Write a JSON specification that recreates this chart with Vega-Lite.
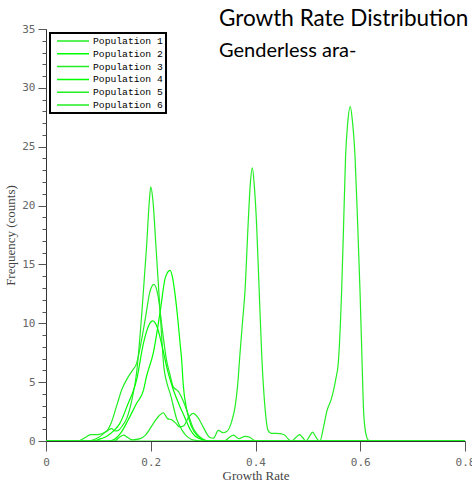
{
  "$schema": "https://vega.github.io/schema/vega-lite/v6.json",
  "width": 419,
  "height": 412,
  "autosize": "none",
  "padding": {"left": 46, "top": 29, "right": 7, "bottom": 45},
  "background": "white",
  "config": {"view": {"stroke": null}, "legend": {"strokeWidth": 2}},
  "title": {
    "text": "Growth Rate Distribution",
    "subtitle": "Genderless ara-",
    "anchor": "start",
    "frame": "group",
    "font": "Lato",
    "fontSize": 22.5,
    "fontWeight": "normal",
    "color": "black",
    "subtitleFont": "Lato",
    "subtitleFontSize": 20,
    "subtitleColor": "black",
    "subtitlePadding": 11,
    "baseline": "top",
    "dx": 173,
    "dy": 66,
    "offset": 28
  },
  "data": {
    "values": [
      {"s": "Population 1", "x": 0, "y": 0}, {"s": "Population 1", "x": 0.08, "y": 0}, {"s": "Population 1", "x": 0.1, "y": 0.3}, {"s": "Population 1", "x": 0.115, "y": 0.8}, {"s": "Population 1", "x": 0.125, "y": 1.05}, {"s": "Population 1", "x": 0.132, "y": 0.85}, {"s": "Population 1", "x": 0.138, "y": 0.9}, {"s": "Population 1", "x": 0.146, "y": 1.3}, {"s": "Population 1", "x": 0.154, "y": 1.9}, {"s": "Population 1", "x": 0.164, "y": 3.5}, {"s": "Population 1", "x": 0.173, "y": 5.8}, {"s": "Population 1", "x": 0.183, "y": 10.9}, {"s": "Population 1", "x": 0.192, "y": 16.5}, {"s": "Population 1", "x": 0.197, "y": 20.2}, {"s": "Population 1", "x": 0.2, "y": 21.6}, {"s": "Population 1", "x": 0.204, "y": 20.5}, {"s": "Population 1", "x": 0.21, "y": 16.5}, {"s": "Population 1", "x": 0.218, "y": 10.9}, {"s": "Population 1", "x": 0.225, "y": 6.3}, {"s": "Population 1", "x": 0.231, "y": 4.9}, {"s": "Population 1", "x": 0.237, "y": 4.05}, {"s": "Population 1", "x": 0.25, "y": 1.8}, {"s": "Population 1", "x": 0.26, "y": 0.9}, {"s": "Population 1", "x": 0.27, "y": 0.35}, {"s": "Population 1", "x": 0.285, "y": 0.05}, {"s": "Population 1", "x": 0.3, "y": 0}, {"s": "Population 1", "x": 0.8, "y": 0},

      {"s": "Population 2", "x": 0, "y": 0}, {"s": "Population 2", "x": 0.12, "y": 0}, {"s": "Population 2", "x": 0.129, "y": 0.1}, {"s": "Population 2", "x": 0.1445, "y": 0.8}, {"s": "Population 2", "x": 0.157, "y": 1.8}, {"s": "Population 2", "x": 0.173, "y": 3.2}, {"s": "Population 2", "x": 0.186, "y": 4.3}, {"s": "Population 2", "x": 0.192, "y": 5.5}, {"s": "Population 2", "x": 0.205, "y": 7.5}, {"s": "Population 2", "x": 0.2177, "y": 10.9}, {"s": "Population 2", "x": 0.228, "y": 13.9}, {"s": "Population 2", "x": 0.2368, "y": 14.5}, {"s": "Population 2", "x": 0.242, "y": 13.8}, {"s": "Population 2", "x": 0.246, "y": 12.6}, {"s": "Population 2", "x": 0.252, "y": 10.2}, {"s": "Population 2", "x": 0.256, "y": 8.3}, {"s": "Population 2", "x": 0.259, "y": 6.9}, {"s": "Population 2", "x": 0.262, "y": 4.8}, {"s": "Population 2", "x": 0.269, "y": 2.6}, {"s": "Population 2", "x": 0.278, "y": 1.2}, {"s": "Population 2", "x": 0.291, "y": 0.37}, {"s": "Population 2", "x": 0.3, "y": 0.1}, {"s": "Population 2", "x": 0.31, "y": 0}, {"s": "Population 2", "x": 0.8, "y": 0},

      {"s": "Population 3", "x": 0, "y": 0}, {"s": "Population 3", "x": 0.06, "y": 0}, {"s": "Population 3", "x": 0.075, "y": 0.3}, {"s": "Population 3", "x": 0.085, "y": 0.55}, {"s": "Population 3", "x": 0.1, "y": 0.55}, {"s": "Population 3", "x": 0.115, "y": 0.8}, {"s": "Population 3", "x": 0.125, "y": 1.6}, {"s": "Population 3", "x": 0.135, "y": 3.0}, {"s": "Population 3", "x": 0.145, "y": 4.4}, {"s": "Population 3", "x": 0.155, "y": 5.3}, {"s": "Population 3", "x": 0.165, "y": 6.0}, {"s": "Population 3", "x": 0.173, "y": 6.6}, {"s": "Population 3", "x": 0.18, "y": 8.0}, {"s": "Population 3", "x": 0.19, "y": 10.5}, {"s": "Population 3", "x": 0.198, "y": 12.6}, {"s": "Population 3", "x": 0.206, "y": 13.3}, {"s": "Population 3", "x": 0.214, "y": 12.3}, {"s": "Population 3", "x": 0.222, "y": 9.5}, {"s": "Population 3", "x": 0.23, "y": 6.9}, {"s": "Population 3", "x": 0.237, "y": 5.6}, {"s": "Population 3", "x": 0.243, "y": 4.6}, {"s": "Population 3", "x": 0.253, "y": 4.2}, {"s": "Population 3", "x": 0.262, "y": 3.4}, {"s": "Population 3", "x": 0.272, "y": 2.2}, {"s": "Population 3", "x": 0.28, "y": 1.2}, {"s": "Population 3", "x": 0.288, "y": 0.6}, {"s": "Population 3", "x": 0.3, "y": 0.15}, {"s": "Population 3", "x": 0.31, "y": 0}, {"s": "Population 3", "x": 0.8, "y": 0},

      {"s": "Population 4", "x": 0, "y": 0}, {"s": "Population 4", "x": 0.09, "y": 0}, {"s": "Population 4", "x": 0.105, "y": 0.2}, {"s": "Population 4", "x": 0.116, "y": 0.4}, {"s": "Population 4", "x": 0.13, "y": 0.9}, {"s": "Population 4", "x": 0.141, "y": 1.5}, {"s": "Population 4", "x": 0.157, "y": 3.2}, {"s": "Population 4", "x": 0.167, "y": 4.3}, {"s": "Population 4", "x": 0.173, "y": 5.2}, {"s": "Population 4", "x": 0.186, "y": 8.3}, {"s": "Population 4", "x": 0.196, "y": 9.8}, {"s": "Population 4", "x": 0.204, "y": 10.2}, {"s": "Population 4", "x": 0.212, "y": 9.7}, {"s": "Population 4", "x": 0.222, "y": 8.0}, {"s": "Population 4", "x": 0.232, "y": 6.0}, {"s": "Population 4", "x": 0.242, "y": 4.5}, {"s": "Population 4", "x": 0.255, "y": 3.0}, {"s": "Population 4", "x": 0.265, "y": 2.0}, {"s": "Population 4", "x": 0.275, "y": 1.0}, {"s": "Population 4", "x": 0.285, "y": 0.4}, {"s": "Population 4", "x": 0.3, "y": 0.1}, {"s": "Population 4", "x": 0.31, "y": 0}, {"s": "Population 4", "x": 0.8, "y": 0},

      {"s": "Population 5", "x": 0, "y": 0}, {"s": "Population 5", "x": 0.13, "y": 0}, {"s": "Population 5", "x": 0.14, "y": 0.3}, {"s": "Population 5", "x": 0.148, "y": 0.5}, {"s": "Population 5", "x": 0.156, "y": 0.3}, {"s": "Population 5", "x": 0.165, "y": 0.1}, {"s": "Population 5", "x": 0.18, "y": 0.2}, {"s": "Population 5", "x": 0.19, "y": 0.5}, {"s": "Population 5", "x": 0.205, "y": 1.5}, {"s": "Population 5", "x": 0.215, "y": 2.1}, {"s": "Population 5", "x": 0.224, "y": 2.4}, {"s": "Population 5", "x": 0.232, "y": 1.9}, {"s": "Population 5", "x": 0.24, "y": 1.8}, {"s": "Population 5", "x": 0.248, "y": 1.5}, {"s": "Population 5", "x": 0.255, "y": 1.2}, {"s": "Population 5", "x": 0.263, "y": 1.3}, {"s": "Population 5", "x": 0.272, "y": 2.0}, {"s": "Population 5", "x": 0.281, "y": 2.35}, {"s": "Population 5", "x": 0.29, "y": 2.0}, {"s": "Population 5", "x": 0.3, "y": 1.2}, {"s": "Population 5", "x": 0.313, "y": 0.3}, {"s": "Population 5", "x": 0.32, "y": 0.25}, {"s": "Population 5", "x": 0.329, "y": 0.9}, {"s": "Population 5", "x": 0.338, "y": 0.7}, {"s": "Population 5", "x": 0.345, "y": 0.8}, {"s": "Population 5", "x": 0.351, "y": 1.2}, {"s": "Population 5", "x": 0.356, "y": 1.9}, {"s": "Population 5", "x": 0.361, "y": 2.9}, {"s": "Population 5", "x": 0.366, "y": 4.8}, {"s": "Population 5", "x": 0.37, "y": 7.2}, {"s": "Population 5", "x": 0.375, "y": 10.0}, {"s": "Population 5", "x": 0.38, "y": 12.8}, {"s": "Population 5", "x": 0.386, "y": 18.5}, {"s": "Population 5", "x": 0.39, "y": 21.8}, {"s": "Population 5", "x": 0.394, "y": 23.2}, {"s": "Population 5", "x": 0.398, "y": 21.5}, {"s": "Population 5", "x": 0.402, "y": 18.5}, {"s": "Population 5", "x": 0.407, "y": 12.8}, {"s": "Population 5", "x": 0.412, "y": 7.2}, {"s": "Population 5", "x": 0.418, "y": 2.9}, {"s": "Population 5", "x": 0.424, "y": 0.9}, {"s": "Population 5", "x": 0.43, "y": 0.65}, {"s": "Population 5", "x": 0.44, "y": 0.65}, {"s": "Population 5", "x": 0.45, "y": 0.6}, {"s": "Population 5", "x": 0.456, "y": 0.5}, {"s": "Population 5", "x": 0.463, "y": 0.15}, {"s": "Population 5", "x": 0.469, "y": 0}, {"s": "Population 5", "x": 0.477, "y": 0.3}, {"s": "Population 5", "x": 0.484, "y": 0.55}, {"s": "Population 5", "x": 0.49, "y": 0.3}, {"s": "Population 5", "x": 0.496, "y": 0}, {"s": "Population 5", "x": 0.503, "y": 0.4}, {"s": "Population 5", "x": 0.509, "y": 0.75}, {"s": "Population 5", "x": 0.515, "y": 0.35}, {"s": "Population 5", "x": 0.522, "y": 0}, {"s": "Population 5", "x": 0.8, "y": 0},

      {"s": "Population 6", "x": 0, "y": 0}, {"s": "Population 6", "x": 0.34, "y": 0}, {"s": "Population 6", "x": 0.35, "y": 0.3}, {"s": "Population 6", "x": 0.358, "y": 0.5}, {"s": "Population 6", "x": 0.368, "y": 0.2}, {"s": "Population 6", "x": 0.38, "y": 0.4}, {"s": "Population 6", "x": 0.39, "y": 0.3}, {"s": "Population 6", "x": 0.4, "y": 0}, {"s": "Population 6", "x": 0.523, "y": 0}, {"s": "Population 6", "x": 0.53, "y": 1.2}, {"s": "Population 6", "x": 0.536, "y": 2.5}, {"s": "Population 6", "x": 0.545, "y": 3.6}, {"s": "Population 6", "x": 0.549, "y": 4.3}, {"s": "Population 6", "x": 0.553, "y": 5.2}, {"s": "Population 6", "x": 0.558, "y": 6.6}, {"s": "Population 6", "x": 0.5645, "y": 12.8}, {"s": "Population 6", "x": 0.568, "y": 18.0}, {"s": "Population 6", "x": 0.572, "y": 24.2}, {"s": "Population 6", "x": 0.576, "y": 27.0}, {"s": "Population 6", "x": 0.581, "y": 28.4}, {"s": "Population 6", "x": 0.585, "y": 27.2}, {"s": "Population 6", "x": 0.59, "y": 24.2}, {"s": "Population 6", "x": 0.595, "y": 18.5}, {"s": "Population 6", "x": 0.5995, "y": 12.8}, {"s": "Population 6", "x": 0.603, "y": 7.5}, {"s": "Population 6", "x": 0.606, "y": 2.9}, {"s": "Population 6", "x": 0.61, "y": 0.8}, {"s": "Population 6", "x": 0.615, "y": 0.1}, {"s": "Population 6", "x": 0.62, "y": 0}, {"s": "Population 6", "x": 0.8, "y": 0}
    ]
  },
  "layer": [
    {
      "mark": {"type": "line", "interpolate": "monotone", "strokeWidth": 1.2, "clip": true},
      "encoding": {
        "x": {
          "field": "x", "type": "quantitative",
          "scale": {"domain": [0, 0.8], "nice": false, "zero": false},
          "axis": {
            "values": [0, 0.2, 0.4, 0.6, 0.8], "format": ".1~f", "grid": false,
            "tickSize": 10, "tickColor": "#555", "domainColor": "#333",
            "labelFont": "DejaVu Sans Mono", "labelFontSize": 11, "labelColor": "#666", "labelPadding": 5,
            "labelFlush": false, "labelBound": false, "labelOverlap": false,
            "title": "Growth Rate", "titleFont": "Liberation Serif", "titleFontSize": 13,
            "titleFontWeight": "normal", "titleColor": "#444", "titlePadding": 2
          }
        },
        "y": {
          "field": "y", "type": "quantitative",
          "scale": {"domain": [0, 35], "nice": false},
          "axis": {
            "orient": "left", "values": [0, 5, 10, 15, 20, 25, 30, 35], "grid": false,
            "tickSize": 8, "tickColor": "#555", "domainColor": "#333",
            "labelFont": "DejaVu Sans Mono", "labelFontSize": 11, "labelColor": "#666", "labelPadding": 3,
            "title": "Frequency (counts)", "titleFont": "Liberation Serif", "titleFontSize": 13,
            "titleFontWeight": "normal", "titleColor": "#444", "titlePadding": 4
          }
        },
        "color": {
          "field": "s", "type": "nominal",
          "scale": {"range": ["#22ee22", "#00ff00", "#22ee22", "#00ff00", "#22ee22", "#22ee22"]},
          "legend": {
            "orient": "none", "legendX": 4, "legendY": 4, "title": null,
            "strokeColor": "black", "fillColor": "white", "padding": 3,
            "symbolType": "stroke", "symbolSize": 1024, "symbolStrokeWidth": 1.5, "symbolOffset": 3,
            "labelFont": "Liberation Mono", "labelFontSize": 9.7, "labelColor": "black",
            "labelOffset": 3, "rowPadding": 2.8, "clipHeight": 10
          }
        }
      }
    },
    {
      "mark": {"type": "line", "opacity": 0},
      "encoding": {
        "x": {"field": "x", "type": "quantitative"},
        "y": {
          "field": "y", "type": "quantitative",
          "axis": {
            "orient": "left", "values": [0,1,2,3,4,5,6,7,8,9,10,11,12,13,14,15,16,17,18,19,20,21,22,23,24,25,26,27,28,29,30,31,32,33,34,35],
            "labels": false, "domain": false, "grid": false, "tickSize": 4, "tickColor": "#555", "title": null
          }
        },
        "detail": {"field": "s", "type": "nominal"}
      }
    }
  ],
  "resolve": {"axis": {"y": "independent"}}
}
